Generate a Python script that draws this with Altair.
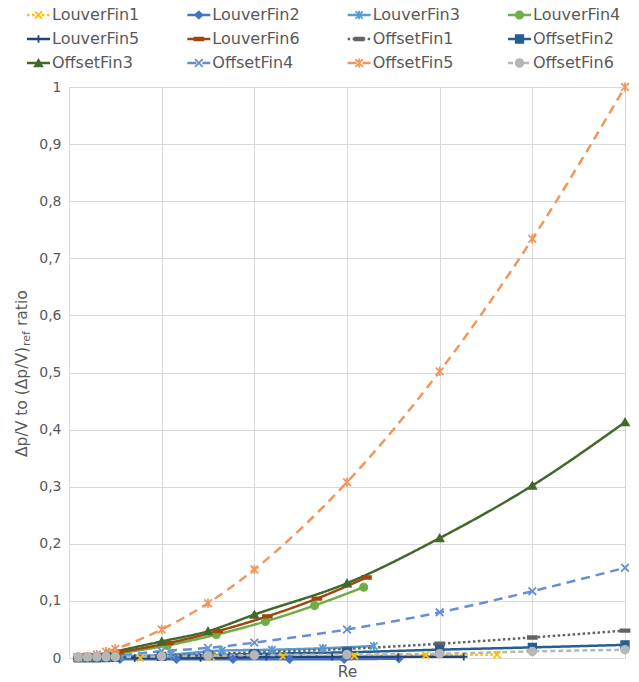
import altair as alt
import pandas as pd

# ---- data -------------------------------------------------------------
SERIES = [
    "LouverFin1", "LouverFin2", "LouverFin3", "LouverFin4",
    "LouverFin5", "LouverFin6", "OffsetFin1", "OffsetFin2",
    "OffsetFin3", "OffsetFin4", "OffsetFin5", "OffsetFin6",
]

RE_OFFSET = [100, 200, 300, 400, 500, 1000, 1500, 2000, 3000, 4000, 5000, 6000]

RE_LOUVER1 = [770, 1540, 2310, 3080, 3850, 4620]
RE_LOUVER2 = [550, 1160, 1770, 2380, 2970, 3560]
RE_LOUVER3 = [550, 1100, 1650, 2190, 2740, 3290]
RE_LOUVER4 = [530, 1060, 1590, 2120, 2650, 3180]
RE_LOUVER5 = [710, 1420, 2130, 2840, 3550, 4260]
RE_LOUVER6 = [535, 1070, 1605, 2140, 2675, 3210]

LOUVER_FIN1 = [0.0, 0.001, 0.003, 0.004, 0.005, 0.006]
LOUVER_FIN2 = [-0.002, -0.002, -0.002, -0.002, -0.002, -0.001]
LOUVER_FIN3 = [0.003, 0.006, 0.013, 0.0145, 0.017, 0.021]
LOUVER_FIN4 = [0.008, 0.022, 0.041, 0.064, 0.092, 0.124]
LOUVER_FIN5 = [0.0, 0.0, 0.002, 0.002, 0.002, 0.002]
LOUVER_FIN6 = [0.010, 0.026, 0.047, 0.073, 0.104, 0.141]

OFFSET_FIN1 = [0.0001, 0.0003, 0.0006, 0.001, 0.0015, 0.004, 0.007, 0.010, 0.016, 0.025, 0.036, 0.048]
OFFSET_FIN2 = [0.0001, 0.0002, 0.0004, 0.0007, 0.001, 0.003, 0.005, 0.007, 0.010, 0.0146, 0.0186, 0.023]
OFFSET_FIN3 = [0.0005, 0.002, 0.004, 0.007, 0.011, 0.029, 0.047, 0.076, 0.131, 0.210, 0.302, 0.413]
OFFSET_FIN4 = [0.0002, 0.001, 0.002, 0.003, 0.004, 0.012, 0.0175, 0.027, 0.050, 0.080, 0.117, 0.158]
OFFSET_FIN5 = [0.001, 0.003, 0.006, 0.011, 0.016, 0.050, 0.096, 0.155, 0.308, 0.502, 0.734, 1.0]
OFFSET_FIN6 = [0.002, 0.002, 0.002, 0.002, 0.002, 0.003, 0.004, 0.005, 0.006, 0.0075, 0.0115, 0.0145]

Y_TICKS = [0, 0.1, 0.2, 0.3, 0.4, 0.5, 0.6, 0.7, 0.8, 0.9, 1]
X_GRID = [0, 1000, 2000, 3000, 4000, 5000, 6000]

X_TITLE = "Re"
Y_TITLE_MAIN = "Δp/V to (Δp/V)"
Y_TITLE_SUB = "ref"
Y_TITLE_END = "ratio"

# ---- styles -----------------------------------------------------------
COLORS = ["#FFC000", "#4472C4", "#5B9BD5", "#70AD47", "#264478", "#9E480E",
          "#636363", "#255E91", "#43682B", "#698ED0", "#F1975A", "#B7B7B7"]
SOLID = [1, 0]
DOT = [2.5, 2.5]
DASH = [9, 6]
DASHES = [DOT, SOLID, SOLID, SOLID, SOLID, SOLID,
          DOT, SOLID, SOLID, DASH, DASH, [5, 3]]
X_PATH = "M-1,-1L1,1M-1,1L1,-1"
STAR_PATH = "M-1,-1L1,1M-1,1L1,-1M0,-1.2L0,1.2"
PLUS_PATH = "M-1,0L1,0M0,-1L0,1"
BAR_PATH = "M-1.2,-0.35L1.2,-0.35L1.2,0.35L-1.2,0.35Z"
SHAPES = [X_PATH, "diamond", STAR_PATH, "circle", PLUS_PATH, BAR_PATH,
          BAR_PATH, "square", "triangle-up", X_PATH, STAR_PATH, "circle"]
SIZES = [50, 60, 50, 65, 50, 55, 55, 55, 70, 50, 50, 90]

FONT = "DejaVu Sans"
TEXT_COLOR = "#595959"
GRID_COLOR = "#D9D9D9"

# ---- long table -------------------------------------------------------
xs = [RE_LOUVER1, RE_LOUVER2, RE_LOUVER3, RE_LOUVER4, RE_LOUVER5, RE_LOUVER6] + [RE_OFFSET] * 6
ys = [LOUVER_FIN1, LOUVER_FIN2, LOUVER_FIN3, LOUVER_FIN4, LOUVER_FIN5, LOUVER_FIN6,
      OFFSET_FIN1, OFFSET_FIN2, OFFSET_FIN3, OFFSET_FIN4, OFFSET_FIN5, OFFSET_FIN6]
rows = []
for name, xv, yv in zip(SERIES, xs, ys):
    for a, b in zip(xv, yv):
        rows.append({"series": name, "re": a, "ratio": b})
df = pd.DataFrame(rows)

legend_df = pd.DataFrame({
    "series": SERIES,
    "col": [i % 4 for i in range(len(SERIES))],
    "row": [i // 4 for i in range(len(SERIES))],
})

color_scale = alt.Scale(domain=SERIES, range=COLORS)
dash_scale = alt.Scale(domain=SERIES, range=DASHES)
shape_scale = alt.Scale(domain=SERIES, range=SHAPES)
size_scale = alt.Scale(domain=SERIES, range=SIZES)

x_enc = alt.X("re:Q", scale=alt.Scale(domain=[0, 6000], nice=False),
              axis=alt.Axis(values=X_GRID, labels=False, ticks=False, domain=False,
                            gridColor=GRID_COLOR, title=X_TITLE, titleFont=FONT,
                            titleFontSize=15.5, titleFontWeight="normal",
                            titleColor=TEXT_COLOR, titlePadding=6))
y_enc = alt.Y("ratio:Q", scale=alt.Scale(domain=[0, 1], nice=False),
              axis=alt.Axis(values=Y_TICKS, ticks=False, domain=False,
                            gridColor=GRID_COLOR, labelFont=FONT, labelFontSize=14,
                            labelColor=TEXT_COLOR, labelPadding=8,
                            labelExpr="replace(format(datum.value, '~g'), '.', ',')",
                            title=None))

base = alt.Chart(df)
lines = base.mark_line(strokeWidth=2.5, interpolate="monotone").encode(
    x=x_enc, y=y_enc,
    stroke=alt.Stroke("series:N", scale=color_scale, legend=None),
    strokeDash=alt.StrokeDash("series:N", scale=dash_scale, legend=None),
    detail="series:N",
)
points = base.mark_point(strokeWidth=1.8, opacity=1).encode(
    x="re:Q", y="ratio:Q",
    fill=alt.Fill("series:N", scale=color_scale, legend=None),
    stroke=alt.Stroke("series:N", scale=color_scale, legend=None),
    shape=alt.Shape("series:N", scale=shape_scale, legend=None),
    size=alt.Size("series:N", scale=size_scale, legend=None),
)
plot = alt.layer(lines, points)

# ---- legend drawn as its own layer above the plot ---------------------
lx = alt.X("col:Q", scale=alt.Scale(domain=[0, 3], range=[-42, 439]), axis=None)
ly = alt.Y("row:Q", scale=alt.Scale(domain=[0, 2], range=[-72, -24]), axis=None)
lbase = alt.Chart(legend_df)
leg_line = lbase.mark_rule(strokeWidth=2.5, x2Offset=23).encode(
    x=lx, x2="col:Q", y=ly,
    stroke=alt.Stroke("series:N", scale=color_scale, legend=None),
    strokeDash=alt.StrokeDash("series:N", scale=dash_scale, legend=None),
)
leg_mark = lbase.mark_point(strokeWidth=1.8, opacity=1, xOffset=11.5).encode(
    x=lx, y=ly,
    fill=alt.Fill("series:N", scale=color_scale, legend=None),
    stroke=alt.Stroke("series:N", scale=color_scale, legend=None),
    shape=alt.Shape("series:N", scale=shape_scale, legend=None),
    size=alt.Size("series:N", scale=size_scale, legend=None),
)
leg_text = lbase.mark_text(align="left", baseline="middle", dx=25, font=FONT,
                           fontSize=16, color=TEXT_COLOR).encode(
    x=lx, y=ly, text="series:N")
legend = alt.layer(leg_line, leg_mark, leg_text)

# ---- rotated y title with subscript -----------------------------------
tdf = pd.DataFrame({"t": [0]})
t1 = alt.Chart(tdf).mark_text(angle=270, align="left", baseline="middle", font=FONT,
                              fontSize=15.5, color=TEXT_COLOR, text=Y_TITLE_MAIN).encode(
    x=alt.value(-47), y=alt.value(370))
t2 = alt.Chart(tdf).mark_text(angle=270, align="left", baseline="middle", font=FONT,
                              fontSize=11, color=TEXT_COLOR, text=Y_TITLE_SUB).encode(
    x=alt.value(-42), y=alt.value(259))
t3 = alt.Chart(tdf).mark_text(angle=270, align="left", baseline="middle", font=FONT,
                              fontSize=15.5, color=TEXT_COLOR, text=Y_TITLE_END).encode(
    x=alt.value(-47), y=alt.value(239))
ytitle = alt.layer(t1, t2, t3)

chart = alt.layer(plot, legend, ytitle).resolve_scale(
    x="independent", y="independent"
).properties(
    width=556, height=571,
    autosize=alt.AutoSizeParams(type="none"),
    padding={"left": 69, "top": 87, "right": 14, "bottom": 24},
).configure_view(stroke=None).configure(background="white")

chart.save("out.html", embed_options={"renderer": "svg", "actions": False})
